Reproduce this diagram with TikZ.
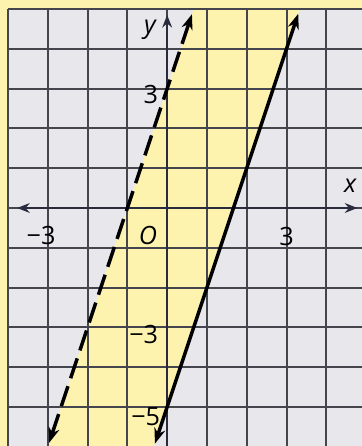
\documentclass[tikz,border=0pt]{standalone}
\usepackage{fontspec}
\setmainfont{Open Sans}
\usetikzlibrary{arrows.meta}
\definecolor{bggray}{HTML}{E8E8EC}
\definecolor{shadey}{HTML}{FDF3AE}
\definecolor{gridc}{HTML}{45454D}
\definecolor{axisc}{HTML}{2B2B3E}
\begin{document}
\begin{tikzpicture}[x=1cm,y=1cm,
  gridline/.style={gridc, line width=1.4pt},
  axisline/.style={axisc, line width=1.9pt},
  graphline/.style={black, line width=2.5pt, {Stealth[length=11pt,width=8pt]}-{Stealth[length=11pt,width=8pt]}},
  lbl/.style={font=\fontsize{18}{18}\selectfont, inner sep=0pt, text=black}]
\useasboundingbox (-4.2,-5.98) rectangle (4.895,5.226);
\clip (-4.2,-5.98) rectangle (4.895,5.226);
\fill[shadey] (-4.2,-5.98) rectangle (4.895,5.226);
\fill[bggray] (-4,-6.1) rectangle (5,5);
\fill[shadey] (-3,-6) -- (2/3,5) -- (10/3,5) -- (-1/3,-6) -- cycle;
\draw[gridline] (-4,-6) grid (4.9,5);
% axes
\coordinate (xl) at (-3.77,0);
\coordinate (xr) at (4.78,0);
\coordinate (yb) at (0,-6.1);
\coordinate (yt) at (0,4.85);
\draw[axisline,{Stealth[length=9pt,width=7pt]}-{Stealth[length=9pt,width=7pt]}] (xl) -- (xr);
\draw[axisline,-{Stealth[length=9pt,width=7pt]}] (yb) -- (yt);
% boundary lines
\coordinate (db) at (-2.967,-5.9);
\coordinate (dt) at (0.623,4.87);
\coordinate (sb) at (-0.307,-5.92);
\coordinate (st) at (3.293,4.88);
\draw[graphline, dash pattern=on 15pt off 6pt] (db) -- (dt);
\draw[graphline] (sb) -- (st);
% labels
\node[lbl, font=\fontsize{18}{18}\selectfont\itshape] (ly) at (-0.43,4.47) {y};
\node[lbl, font=\fontsize{18}{18}\selectfont\itshape] (lx) at (4.6,0.55) {x};
\node[lbl, font=\fontsize{18}{18}\selectfont\itshape] (lo) at (-0.48,-0.68) {O};
\node[lbl, anchor=east] (l3y) at (-0.22,2.84) {3};
\node[lbl] (l3x) at (3.0,-0.72) {3};
\node[lbl, anchor=east] (lm3x) at (-2.8,-0.68) {−3};
\node[lbl, anchor=east] (lm3y) at (-0.22,-3.17) {−3};
\node[lbl, anchor=east] (lm5y) at (-0.17,-5.25) {−5};
\end{tikzpicture}
\end{document}
